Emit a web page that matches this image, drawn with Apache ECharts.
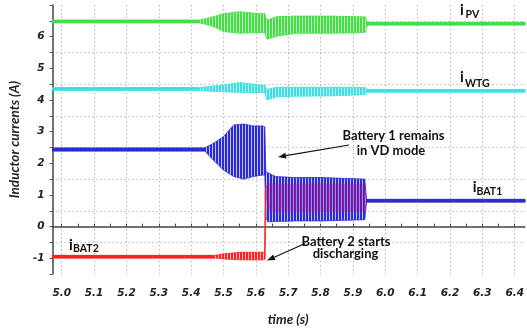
<!DOCTYPE html>
<html><head><meta charset="utf-8">
<script src="https://cdn.jsdelivr.net/npm/echarts@6/dist/echarts.min.js"></script>
<style>html,body{margin:0;padding:0;background:#fff}#c{width:527px;height:334px}</style>
</head><body><div id="c"></div>
<script>
// x ticks
const xTicks = [5.0,5.1,5.2,5.3,5.4,5.5,5.6,5.7,5.8,5.9,6.0,6.1,6.2,6.3,6.4];
const yTickLabels = [-1,0,1,2,3,4,5,6];
// i_PV (green) envelope
const pvT  = [4.97, 5.42, 5.44, 5.467, 5.498, 5.549, 5.611, 5.626, 5.629, 5.633, 5.663, 5.724, 5.827, 5.91, 5.937, 5.942, 6.43];
const pvHi = [6.52, 6.52, 6.56, 6.63, 6.72, 6.79, 6.72, 6.73, 6.60, 6.53, 6.63, 6.65, 6.65, 6.63, 6.62, 6.45, 6.45];
const pvLo = [6.44, 6.44, 6.40, 6.32, 6.16, 6.11, 6.13, 6.13, 6.00, 5.92, 6.02, 6.11, 6.11, 6.12, 6.14, 6.37, 6.37];
// i_WTG (cyan) envelope
const wtT  = [4.97, 5.42, 5.44, 5.467, 5.498, 5.549, 5.611, 5.626, 5.629, 5.633, 5.663, 5.724, 5.827, 5.91, 5.937, 5.942, 6.43];
const wtHi = [4.39, 4.39, 4.41, 4.44, 4.47, 4.55, 4.47, 4.47, 4.38, 4.34, 4.40, 4.40, 4.40, 4.40, 4.39, 4.33, 4.33];
const wtLo = [4.31, 4.31, 4.29, 4.27, 4.26, 4.24, 4.24, 4.24, 4.10, 4.00, 4.10, 4.12, 4.13, 4.16, 4.17, 4.25, 4.25];
// i_BAT1 (blue) envelope
const b1T  = [4.97, 5.44, 5.467, 5.498, 5.53, 5.56, 5.59, 5.62, 5.626, 5.629, 5.635, 5.66, 5.72, 5.80, 5.88, 5.935, 5.94, 6.43];
const b1Hi = [2.48, 2.48, 2.63, 2.84, 3.21, 3.24, 3.18, 3.18, 3.15, 1.75, 1.70, 1.58, 1.55, 1.55, 1.52, 1.50, 0.86, 0.86];
const b1Lo = [2.39, 2.39, 2.10, 1.79, 1.58, 1.50, 1.58, 1.63, 1.63, 0.30, 0.15, 0.16, 0.18, 0.18, 0.20, 0.22, 0.78, 0.78];
// i_BAT2 (red) envelope
const b2T  = [4.97, 5.47, 5.50, 5.55, 5.60, 5.625, 5.627, 5.629, 5.64, 5.70, 5.80, 5.90, 5.938, 5.942, 6.43];
const b2Hi = [-0.91, -0.91, -0.86, -0.81, -0.81, -0.81, 1.05, 1.30, 1.38, 1.35, 1.35, 1.35, 1.35, 0.84, 0.84];
const b2Lo = [-0.99, -0.99, -1.02, -1.05, -1.05, -1.05, -0.99, 0.90, 0.45, 0.45, 0.45, 0.47, 0.47, 0.78, 0.78];

const chart = echarts.init(document.getElementById('c'), null, {renderer:'canvas'});

// vertical-stripe fill that mimics the dense switching ripple
function stripes(color, period, on, offset, gapColor){
  const c = document.createElement('canvas');
  c.width = period; c.height = 4;
  const g = c.getContext('2d');
  if (gapColor){ g.fillStyle = gapColor; g.fillRect(0,0,period,4); }
  g.fillStyle = color;
  g.fillRect(offset, 0, on, 4);
  return {image:c, repeat:'repeat'};
}

// envelope band drawn as polygon(s); quiet parts (t<=q0 or t>=q1) solid, ripple part striped
function band(name, T, Hi, Lo, color, fill, opts) {
  opts = opts || {};
  const idx = T.map((t,i)=>i).filter(i => opts.filter ? opts.filter(T[i]) : true);
  const rows = idx.map(i => [T[i], Lo[i], Hi[i]]);
  return {
    type:'custom', name:name, xAxisIndex:0, yAxisIndex:0, silent:true, animation:false,
    data:[[rows[0][0], rows[0][1]]],
    encode:{x:0, y:1},
    renderItem:function(params, api){
      function poly(rs, f, stroke){
        const pts = [];
        rs.forEach(r => pts.push(api.coord([r[0], r[1]])));
        for (let k=rs.length-1;k>=0;k--) pts.push(api.coord([rs[k][0], rs[k][2]]));
        return {type:'polygon', shape:{points:pts},
          style:{fill:f, stroke:stroke, lineWidth:0.8, opacity:opts.opacity==null?1:opts.opacity}};
      }
      const children = [poly(rows, fill, opts.stroke || color)];
      if (opts.q0 != null) {
        const a = rows.filter(r=>r[0]<=opts.q0);
        if (a.length>1) children.push(poly(a, color, color));
      }
      if (opts.q1 != null) {
        const b = rows.filter(r=>r[0]>=opts.q1);
        if (b.length>1) children.push(poly(b, color, color));
      }
      return {type:'group', children:children};
    }
  };
}

const tickFont = {fontFamily:'DejaVu Sans', fontWeight:'bold', fontStyle:'italic', fontSize:10.5, color:'#222'};
const titleFont = {fontFamily:'Lato', fontWeight:'bold', fontStyle:'italic', fontSize:13.5, color:'#222'};
const gridLine = {show:true, showMinLine:false, showMaxLine:false, lineStyle:{color:'#a8a8a8', type:[1.2,2.8], width:1}};

function arrow(x1,y1,x2,y2){
  const dx=x2-x1, dy=y2-y1, L=Math.hypot(dx,dy), ux=dx/L, uy=dy/L;
  const hl=8, hw=3;
  const bx=x2-ux*hl, by=y2-uy*hl;
  return [
    {type:'line', shape:{x1:x1,y1:y1,x2:bx,y2:by}, style:{stroke:'#111', lineWidth:1.2}, z:100},
    {type:'polygon', shape:{points:[[x2,y2],[bx-uy*hw,by+ux*hw],[bx+uy*hw,by-ux*hw]]}, style:{fill:'#111'}, z:100}
  ];
}
function txt(t,x,y,size,align){
  return {type:'text', z:100, style:{text:t, x:x, y:y, align:align||'center', verticalAlign:'middle',
    font:'bold '+size+'px Lato', fill:'#111'}};
}

const GREEN='#3fe03f', CYAN='#3adfe6', BLUE='#2c2cd4', RED='#ff2020';
const option = {
  backgroundColor:'#fff',
  animation:false,
  grid:[
    {left:52, top:5, width:473, height:269.1},
    {left:61.72, top:5, width:453.6, height:269.1}
  ],
  xAxis:[
    {gridIndex:0, type:'value', min:4.97, max:6.43,
     axisLine:{show:true, lineStyle:{color:'#444', width:1.5}}, axisTick:{show:false}, axisLabel:{show:false}, splitLine:{show:false}},
    {gridIndex:1, type:'value', min:xTicks[0], max:xTicks[xTicks.length-1], interval:0.1,
     axisLine:{show:false}, axisTick:{show:true, inside:true, length:3, lineStyle:{color:'#444'}},
     minorTick:{show:true, splitNumber:2, length:3, lineStyle:{color:'#444'}},
     axisLabel:Object.assign({margin:14, formatter:v=>v.toFixed(1)}, tickFont),
     splitLine:{show:true, lineStyle:{color:'#a8a8a8', type:[1.2,2.8], width:1}},
     name:'time (s)', nameLocation:'middle', nameGap:39, nameTextStyle:titleFont}
  ],
  yAxis:[
    {gridIndex:0, type:'value', min:-1.5, max:7, interval:1,
     axisLine:{show:false}, axisTick:{show:false}, axisLabel:{show:false}, splitLine:gridLine},
    {gridIndex:0, type:'value', position:'left', min:-1.5, max:7, interval:0.5,
     axisLine:{show:true, lineStyle:{color:'#444', width:1.5}},
     axisTick:{show:true, length:3, lineStyle:{color:'#555'}},
     axisLabel:Object.assign({margin:8, formatter:v=> yTickLabels.indexOf(v)>=0 ? String(v) : ''}, tickFont),
     splitLine:{show:false},
     name:'Inductor currents (A)', nameLocation:'middle', nameGap:29, nameTextStyle:titleFont},
    {gridIndex:1, type:'value', show:false, min:-1.5, max:7}
  ],
  series:[
    band('pv', pvT, pvHi, pvLo, GREEN, stripes(GREEN,3,2,0,'#c8f5c8'), {q0:5.42, q1:5.942}),
    band('wtg', wtT, wtHi, wtLo, CYAN, stripes(CYAN,3,2,0,'#c6f4f6'), {q0:5.42, q1:5.942}),
    band('bat2post', b2T, b2Hi, b2Lo, RED, RED, {filter:t=>t>=5.942}),
    band('bat1', b1T, b1Hi, b1Lo, BLUE, stripes(BLUE,3,2,0,'#c0c0f2'), {q0:5.44, q1:5.94}),
    band('bat2pre', b2T, b2Hi, b2Lo, RED, stripes(RED,3,2,0,'#ffc8c8'), {filter:t=>t<=5.629, q0:5.47}),
    band('bat2mid', b2T, b2Hi, b2Lo, RED, stripes('#a81090',3,1,1,'rgba(110,20,170,0.35)'),
         {filter:t=>t>=5.629 && t<=5.942, stroke:'rgba(0,0,0,0)', opacity:0.9})
  ],
  graphic:[].concat(
    [txt('Battery 1 remains',393.5,135.5,13), txt('in VD mode',391,151,13),
     txt('Battery 2 starts',346,241.5,13), txt('discharging',345.5,254,13),
     txt('i',462,10.5,15), txt('PV',465.5,15,10.5,'left'),
     txt('i',462,77.5,15), txt('WTG',465,83.7,10.5,'left'),
     txt('i',474.7,187.5,15), txt('BAT1',476.5,191.3,10.5,'left'),
     txt('i',71,244.7,15), txt('BAT2',73,248.7,10.5,'left')],
    arrow(349,145,278,157),
    arrow(305,243.5,267,260.5)
  )
};
chart.setOption(option);
</script>
</body></html>
